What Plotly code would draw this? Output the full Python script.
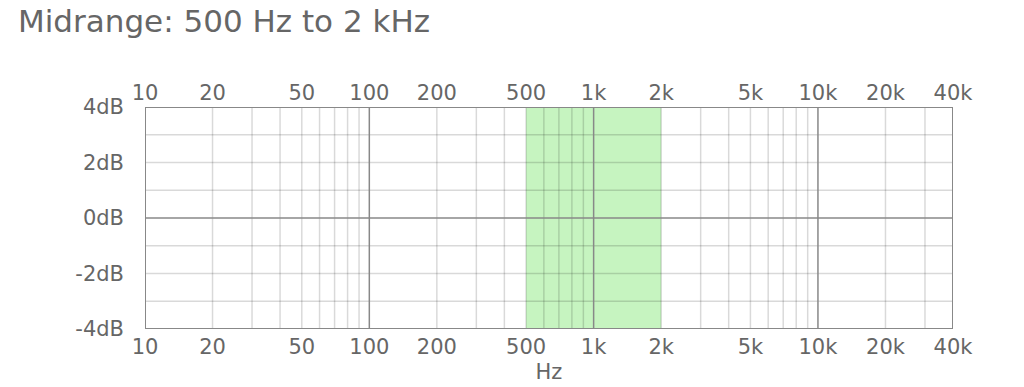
import plotly.graph_objects as go
import numpy as np

# ---- data ----
title_text = "Midrange: 500 Hz to 2 kHz"
band_low_hz = 500
band_high_hz = 2000
x_min_hz = 10
x_max_hz = 40000
y_min_db = -4
y_max_db = 4
x_label_vals = [10, 20, 50, 100, 200, 500, 1000, 2000, 5000, 10000, 20000, 40000]
x_label_text = ["10", "20", "50", "100", "200", "500", "1k", "2k", "5k", "10k", "20k", "40k"]
x_grid_vals = [10, 20, 30, 40, 50, 60, 70, 80, 90,
               100, 200, 300, 400, 500, 600, 700, 800, 900,
               1000, 2000, 3000, 4000, 5000, 6000, 7000, 8000, 9000,
               10000, 20000, 30000, 40000]
x_decade_vals = [100, 1000, 10000]
y_label_vals = [-4, -2, 0, 2, 4]
y_label_text = ["-4dB", "-2dB", "0dB", "2dB", "4dB"]
y_grid_vals = [-3, -2, -1, 0, 1, 2, 3]

TXT = "#666666"
FONT = "DejaVu Sans"
GRID = "rgba(0,0,0,0.15)"
DARK = "#888888"

fig = go.Figure()
# invisible traces to anchor both axes
fig.add_trace(go.Scatter(x=[x_min_hz, x_max_hz], y=[0, 0], mode="lines",
                         line=dict(width=0), hoverinfo="skip", showlegend=False))
fig.add_trace(go.Scatter(x=[x_min_hz, x_max_hz], y=[0, 0], mode="lines", xaxis="x2",
                         line=dict(width=0), hoverinfo="skip", showlegend=False))

shapes = []
# green band
shapes.append(dict(type="rect", xref="x", yref="y", x0=band_low_hz, x1=band_high_hz,
                   y0=y_min_db, y1=y_max_db, fillcolor="#c6f4c0",
                   line=dict(width=0), layer="below"))
# light grid lines (vertical)
for v in x_grid_vals:
    if v in x_decade_vals:
        continue
    shapes.append(dict(type="line", xref="x", yref="y", x0=v, x1=v, y0=y_min_db, y1=y_max_db,
                       line=dict(color=GRID, width=1.5), layer="above"))
# horizontal grid
for v in y_grid_vals:
    col = DARK if v == 0 else GRID
    shapes.append(dict(type="line", xref="x", yref="y", x0=x_min_hz, x1=x_max_hz, y0=v, y1=v,
                       line=dict(color=col, width=1.5), layer="above"))
# darker decade lines
for v in x_decade_vals:
    shapes.append(dict(type="line", xref="x", yref="y", x0=v, x1=v, y0=y_min_db, y1=y_max_db,
                       line=dict(color=DARK, width=1.5), layer="above"))
# border
shapes.append(dict(type="rect", xref="x", yref="y", x0=x_min_hz, x1=x_max_hz,
                   y0=y_min_db, y1=y_max_db, line=dict(color=DARK, width=2),
                   fillcolor="rgba(0,0,0,0)", layer="above"))

xr = [np.log10(x_min_hz), np.log10(x_max_hz)]
tickfont = dict(family=FONT, size=21, color=TXT)

fig.update_layout(
    width=1024, height=387,
    margin=dict(l=145, r=71, t=107, b=58),
    paper_bgcolor="white", plot_bgcolor="white",
    showlegend=False,
    title=dict(text=title_text, x=18 / 1024, xanchor="left", y=1 - 21 / 387, yanchor="middle",
               font=dict(family=FONT, size=31, color=TXT)),
    shapes=shapes,
    xaxis=dict(type="log", range=xr, tickvals=x_label_vals, ticktext=x_label_text,
               showgrid=False, zeroline=False, showline=False, ticks="", automargin=False,
               tickfont=tickfont, ticklabelstandoff=3,
               title=dict(text="Hz", font=dict(family=FONT, size=21, color=TXT), standoff=6)),
    xaxis2=dict(type="log", range=xr, overlaying="x", side="top", matches="x",
                tickvals=x_label_vals, ticktext=x_label_text, automargin=False,
                showgrid=False, zeroline=False, showline=False, ticks="",
                tickfont=tickfont, ticklabelstandoff=2),
    yaxis=dict(range=[y_min_db, y_max_db], tickvals=y_label_vals, ticktext=y_label_text,
               showgrid=False, zeroline=False, showline=False, ticks="", automargin=False,
               tickfont=tickfont, ticklabelstandoff=20),
)

fig.write_html("out.html")
